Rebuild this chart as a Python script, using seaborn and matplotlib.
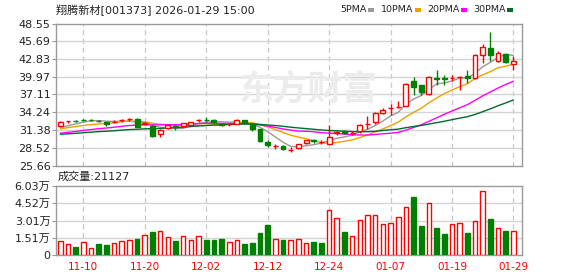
import numpy as np
import pandas as pd
import matplotlib
matplotlib.use("Agg")
import matplotlib.pyplot as plt
from matplotlib.patches import Rectangle
import seaborn as sns

# ---------------- data ----------------
dates = ["11-05", "11-06", "11-07", "11-10", "11-11", "11-12", "11-13", "11-14", "11-17", "11-18",
         "11-19", "11-20", "11-21", "11-24", "11-25", "11-26", "11-27", "11-28", "12-01", "12-02",
         "12-03", "12-04", "12-05", "12-08", "12-09", "12-10", "12-11", "12-12", "12-15", "12-16",
         "12-17", "12-18", "12-19", "12-22", "12-23", "12-24", "12-25", "12-26", "12-29", "12-30",
         "12-31", "01-05", "01-06", "01-07", "01-08", "01-09", "01-12", "01-13", "01-14", "01-15",
         "01-16", "01-19", "01-20", "01-21", "01-22", "01-23", "01-26", "01-27", "01-28", "01-29"]
opens = [32.1, 32.8, 32.9, 33.05, 33.0, 32.9, 32.6, 32.6, 32.95, 33.1,
         33.2, 32.4, 32.05, 30.7, 31.7, 31.95, 32.05, 32.15, 32.95, 33.05,
         33.05, 32.35, 32.3, 32.4, 33.0, 32.4, 31.5, 29.5, 28.75, 28.85,
         28.15, 28.45, 29.25, 29.75, 29.45, 29.15, 30.95, 31.2, 30.85, 31.2,
         32.3, 32.65, 34.1, 34.9, 35.1, 35.3, 39.3, 38.6, 37.2, 39.75,
         39.7, 39.75, 39.9, 40.05, 39.8, 43.55, 44.65, 42.5, 43.65, 42.05]
closes = [32.7, 32.85, 32.85, 33.0, 32.95, 32.85, 32.35, 32.75, 33.0, 33.15,
          31.85, 32.45, 30.35, 31.4, 32.2, 31.8, 32.5, 32.6, 33.05, 33.0,
          32.6, 32.25, 32.35, 33.05, 32.55, 31.55, 29.55, 28.9, 28.8, 28.3,
          28.2, 29.15, 29.8, 29.65, 29.5, 30.3, 31.0, 30.95, 30.9, 32.2,
          32.4, 34.05, 34.6, 34.95, 35.15, 38.8, 38.3, 37.5, 39.9, 39.6,
          39.6, 39.8, 39.95, 39.8, 43.5, 44.8, 43.45, 43.8, 42.4, 42.55]
highs = [32.85, 32.9, 32.95, 33.2, 33.1, 32.95, 32.7, 33.0, 33.2, 33.3,
         33.25, 32.75, 32.15, 31.5, 32.3, 32.2, 32.55, 32.7, 33.1, 33.4,
         33.1, 32.4, 32.4, 33.1, 33.05, 32.45, 31.6, 29.8, 29.1, 28.9,
         28.6, 29.2, 29.85, 29.9, 29.85, 32.2, 31.25, 31.3, 31.25, 32.3,
         33.7, 34.3, 35.0, 35.6, 36.0, 38.9, 39.9, 38.7, 40.1, 41.1,
         40.3, 40.3, 40.1, 41.1, 43.6, 45.3, 47.2, 44.1, 43.7, 43.25]
lows = [32.0, 32.5, 32.6, 32.85, 32.9, 32.7, 32.1, 32.55, 32.7, 32.85,
        31.8, 32.15, 30.3, 30.3, 31.6, 31.4, 31.8, 32.05, 32.75, 32.75,
        32.55, 31.95, 31.95, 32.35, 32.5, 31.3, 29.5, 28.6, 28.35, 28.2,
        27.9, 28.3, 29.2, 29.35, 29.1, 29.1, 30.6, 30.8, 30.6, 30.9,
        31.5, 32.4, 34.0, 33.85, 34.9, 35.2, 37.0, 37.1, 37.0, 38.7,
        38.7, 39.3, 37.9, 38.9, 39.6, 42.2, 42.5, 42.3, 42.2, 41.1]
# closes of the 29 sessions before 11-05 (needed for the moving averages)
prior_closes = [30.8, 30.5, 30.2, 30.0, 30.3, 30.6, 30.4, 30.1, 30.3, 30.4,
                30.2, 29.9, 29.8, 30.0, 30.1, 30.3, 30.0, 30.2, 30.5, 30.7,
                30.9, 31.1, 31.3, 31.6, 31.8, 31.5, 31.4, 31.6, 31.8]
volumes = [12200, 9300, 7000, 11100, 5800, 9600, 8700, 10500, 12200, 13100,
           14000, 17200, 20100, 20700, 15400, 12200, 16300, 13100, 16300, 13100,
           13100, 14000, 11100, 12800, 9600, 10500, 19200, 26200, 13700, 13100,
           12800, 13700, 10200, 11400, 10500, 39000, 32000, 20100, 16300, 30300,
           34700, 34700, 26800, 27700, 32900, 41700, 50700, 25300, 45200, 23600,
           18400, 26800, 27700, 19200, 29400, 55600, 31500, 23300, 21000, 21127]
vol_up = [1, 1, 0, 1, 1, 0, 0, 1, 1, 1, 0, 1, 0, 1, 1, 0, 1, 1, 1, 0,
          0, 0, 1, 1, 0, 0, 0, 0, 1, 0, 1, 1, 1, 0, 0, 1, 1, 0, 1, 1,
          1, 1, 1, 1, 1, 1, 0, 0, 1, 0, 0, 1, 1, 0, 1, 1, 0, 1, 0, 1]
ma_periods = [5, 10, 20, 30]
ma_labels = ["5PMA", "10PMA", "20PMA", "30PMA"]
ma_colors = ["#9a9a9a", "#f0a000", "#ff00ff", "#006b2e"]
price_ticks = [25.66, 28.52, 31.38, 34.24, 37.11, 39.97, 42.83, 45.69, 48.55]
price_tick_labels = ["25.66", "28.52", "31.38", "34.24", "37.11", "39.97", "42.83", "45.69", "48.55"]
vol_ticks = [0, 15075, 30150, 45225, 60300]
vol_tick_labels = ["0", "1.51万", "3.01万", "4.52万", "6.03万"]
label_dates = ["11-10", "11-20", "12-02", "12-12", "12-24", "01-07", "01-19", "01-29"]
title_text = "翔腾新材[001373] 2026-01-29 15:00"
vol_title = "成交量:21127"
watermark = "东方财富"

# ---------------- style ----------------
sns.set_style("white")
plt.rcParams["font.family"] = ["DejaVu Sans", "Noto Sans CJK SC"]

RED = "#ff0000"
GREEN = "#008000"
FRAME = "#9a9a9a"
GRID = "#d4d4d4"

n = len(dates)
idx = np.arange(n)
df = pd.DataFrame({"i": idx, "date": dates, "open": opens, "high": highs,
                   "low": lows, "close": closes, "volume": volumes})
all_close = pd.Series(prior_closes + closes)
for p in ma_periods:
    df[f"ma{p}"] = all_close.rolling(p).mean().iloc[len(prior_closes):].values

W, H = 578, 276
fig = plt.figure(figsize=(W / 100, H / 100), dpi=100)
fig.patch.set_facecolor("white")
ax = fig.add_axes([56 / W, (H - 165.5) / H, 466 / W, 142 / H])
ax2 = fig.add_axes([56 / W, (H - 255) / H, 466 / W, 69 / H])

xlim = (-0.56, 60.12)
label_pos = [dates.index(d) for d in label_dates]

# watermark
fig.text(308 / W, (H - 89) / H, watermark, fontsize=25, fontweight="bold",
         color="#ececec", ha="center", va="center", family=["Noto Sans CJK SC"], zorder=0)

# ---------------- price panel ----------------
for a in (ax, ax2):
    a.set_facecolor("none")
    a.set_xlim(*xlim)
    for s in a.spines.values():
        s.set_color(FRAME)
        s.set_linewidth(1)
    for p in label_pos:
        a.axvline(p, color="#c8c8c8", lw=0.9, ls=(0, (4, 3)), zorder=1)

ax.set_ylim(price_ticks[0], price_ticks[-1])
for t in price_ticks[1:-1]:
    ax.axhline(t, color=GRID, lw=1, zorder=1)

for k, p in enumerate(ma_periods):
    sns.lineplot(data=df, x="i", y=f"ma{p}", ax=ax, color=ma_colors[k],
                 linewidth=1.0, legend=False, zorder=2)

up = df["close"] >= df["open"]
cols = np.where(up, RED, GREEN)
ax.vlines(df["i"], df["low"], df["high"], colors=cols, lw=1, zorder=3)
body_lo = np.minimum(df["open"], df["close"])
body_h = np.maximum(np.abs(df["close"] - df["open"]), 0.04)
ax.bar(df["i"], body_h, bottom=body_lo, width=0.64,
       color=np.where(up, "white", GREEN), edgecolor=cols, linewidth=1, zorder=4)

ax.set_yticks(price_ticks)
ax.set_yticklabels(price_tick_labels, fontsize=8, color="#222222")
ax.set_xticks([])
ax.set_xlabel("")
ax.set_ylabel("")
ax.tick_params(axis="y", length=3, width=0.8, color=FRAME, pad=1, left=True)

# ---------------- volume panel ----------------
ax2.set_ylim(0, vol_ticks[-1])
for t in vol_ticks[1:-1]:
    ax2.axhline(t, color=GRID, lw=1, zorder=1)
vcols = np.where(np.array(vol_up) == 1, RED, GREEN)
vface = np.where(np.array(vol_up) == 1, "white", GREEN)
ax2.bar(df["i"], df["volume"], width=0.6, color=vface, edgecolor=vcols,
        linewidth=1, zorder=3)
ax2.set_yticks(vol_ticks)
ax2.set_yticklabels(vol_tick_labels, fontsize=8, color="#222222")
ax2.set_xticks(label_pos)
ax2.set_xticklabels(label_dates, fontsize=7.5, color=RED)
ax2.tick_params(axis="x", length=0, pad=5)
ax2.tick_params(axis="y", length=3, width=0.8, color=FRAME, pad=1, left=True)
ax2.set_xlabel("")
ax2.set_ylabel("")

# ---------------- texts ----------------
fig.text(56 / W, (H - 10) / H, title_text, fontsize=8, color="#222222",
         ha="left", va="center")
fig.text(58 / W, (H - 177) / H, vol_title, fontsize=8, color="#222222",
         ha="left", va="center")
leg_x = [340, 381, 427, 473]
sq_x = [368, 415, 461, 507]
for k in range(4):
    fig.text(leg_x[k] / W, (H - 10) / H, ma_labels[k], fontsize=6.8,
             color="#222222", ha="left", va="center")
    fig.patches.append(Rectangle((sq_x[k] / W, (H - 12) / H), 6 / W, 4 / H,
                                 transform=fig.transFigure, facecolor=ma_colors[k],
                                 edgecolor="none"))

fig.savefig("out.png", dpi=100)
